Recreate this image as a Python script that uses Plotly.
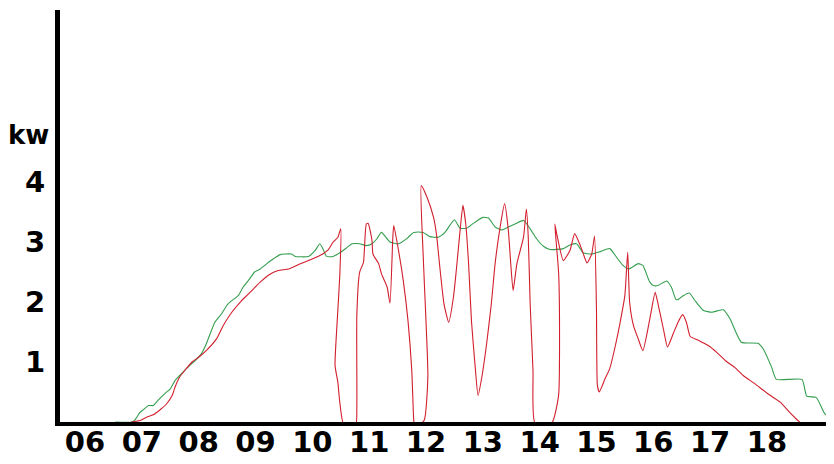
import plotly.graph_objects as go
import pandas as pd

DAY = "2024-06-01 "

green_time = ["06:32","06:49","06:53","06:58","07:02","07:07","07:12","07:17","07:24","07:30",
    "07:35","07:40","07:47","07:58","08:03","08:08","08:17","08:24","08:31","08:42",
    "08:47","08:54","08:59","09:05","09:12","09:19","09:26","09:31","09:38","09:42",
    "09:56","10:03","10:08","10:12","10:15","10:22","10:29","10:36","10:42","10:50",
    "10:57","11:03","11:08","11:13","11:22","11:31","11:40","11:47","11:57","12:04",
    "12:13","12:20","12:30","12:36","12:43","12:50","13:00","13:06","13:13","13:20",
    "13:27","13:34","13:43","13:50","13:57","14:04","14:11","14:25","14:32","14:39",
    "14:46","14:55","15:04","15:14","15:21","15:28","15:34","15:44","15:49","15:56",
    "16:00","16:05","16:14","16:19","16:24","16:26","16:32","16:38","16:44","16:53",
    "17:02","17:14","17:21","17:33","17:51","17:56","18:05","18:10","18:37","18:42",
    "18:52","19:01","19:11"]
green_kw = [0.0,0.0,0.04,0.16,0.21,0.275,0.275,0.36,0.47,0.55,
    0.69,0.775,0.89,1.05,1.14,1.30,1.66,1.80,1.97,2.11,
    2.25,2.39,2.50,2.55,2.64,2.72,2.79,2.80,2.80,2.76,
    2.76,2.86,2.97,2.86,2.76,2.76,2.82,2.90,2.97,2.97,
    2.94,2.97,3.05,3.16,3.00,2.97,3.06,3.16,3.16,3.09,
    3.08,3.16,3.37,3.23,3.23,3.31,3.41,3.40,3.25,3.20,
    3.25,3.30,3.36,3.22,3.05,2.93,2.875,2.89,2.95,2.97,
    2.82,2.80,2.84,2.89,2.75,2.61,2.55,2.64,2.61,2.34,
    2.275,2.275,2.35,2.25,2.04,2.04,2.11,2.15,2.025,1.86,
    1.83,1.87,1.72,1.33,1.31,1.22,0.91,0.71,0.71,0.43,
    0.41,0.14,0.01]

red_time = ["06:49","06:58","07:05","07:12","07:19","07:26","07:32","07:35","07:40","07:53",
    "08:00","08:08","08:19","08:26","08:35","08:44","08:51","08:58","09:05","09:14",
    "09:24","09:35","09:45","09:56","10:08","10:17","10:22","10:27","10:30","10:29",
    "10:26","10:24","10:27","10:29","10:33","10:46","10:47","10:47","10:50","10:54",
    "10:57","10:59","11:03","11:04","11:10","11:13","11:19","11:22","11:25","11:26",
    "11:31","11:36","11:41","11:45","11:47","11:48","11:58","12:02","12:00","11:57",
    "11:55","12:01","12:08","12:11","12:15","12:19","12:24","12:29","12:32","12:36",
    "12:39","12:42","12:45","12:48","12:52","12:55","12:59","13:04","13:09","13:13",
    "13:18","13:23","13:27","13:29","13:32","13:36","13:43","13:46","13:48","13:50",
    "13:53","13:55","14:13","14:20","14:21","14:20","14:16","14:18","14:25","14:32",
    "14:37","14:43","14:48","14:50","14:55","14:58","15:00","15:01","15:03","15:09",
    "15:14","15:20","15:25","15:30","15:33","15:35","15:39","15:44","15:49","15:56",
    "16:02","16:05","16:11","16:15","16:21","16:26","16:31","16:35","16:39","16:48",
    "16:58","17:07","17:16","17:26","17:35","17:47","18:01","18:14","18:24","18:31",
    "18:42"]
red_kw = [0.0,0.025,0.08,0.12,0.20,0.30,0.44,0.58,0.75,1.00,
    1.08,1.19,1.39,1.61,1.83,2.00,2.11,2.22,2.33,2.45,
    2.525,2.55,2.62,2.69,2.775,2.875,3.00,3.08,3.22,2.44,
    1.61,0.94,0.66,0.33,-0.03,-0.03,0.22,1.775,2.50,2.66,
    3.30,3.31,3.025,2.80,2.64,2.47,2.25,1.98,3.08,3.275,
    2.86,2.36,1.69,0.86,0.05,-0.09,0.025,0.75,1.69,2.80,
    3.94,3.75,3.41,3.14,2.525,1.97,1.66,2.08,2.525,3.19,
    3.61,3.30,2.64,1.69,0.91,0.44,0.75,1.30,1.97,2.64,
    3.22,3.64,3.19,2.75,2.19,2.64,3.08,3.55,3.08,1.97,
    0.86,-0.01,-0.01,0.44,1.61,2.50,3.30,3.14,2.69,2.86,
    3.14,2.94,2.72,2.65,2.80,3.10,1.89,0.61,0.50,0.72,
    0.89,1.275,1.66,2.11,2.83,2.00,1.61,1.39,1.19,1.69,
    2.16,1.97,1.525,1.25,1.47,1.66,1.79,1.66,1.425,1.36,
    1.275,1.16,1.025,0.91,0.775,0.64,0.47,0.33,0.16,0.05,
    -0.11]

hour_ticks = ["06","07","08","09","10","11","12","13","14","15","16","17","18"]
kw_ticks = [1, 2, 3, 4]
unit_label = "kw"

gx = pd.to_datetime([DAY + t for t in green_time])
rx = pd.to_datetime([DAY + t for t in red_time])

fig = go.Figure()
fig.add_trace(go.Scatter(x=gx, y=green_kw, mode="lines",
                         line=dict(color="rgb(52,158,78)", width=1.1,
                                   shape="spline", smoothing=0.5), showlegend=False))
fig.add_trace(go.Scatter(x=rx, y=red_kw, mode="lines",
                         line=dict(color="rgb(210,30,45)", width=1.1,
                                   shape="spline", smoothing=0.5), showlegend=False))

font_lbl = dict(family="DejaVu Sans", size=29, color="black", weight="bold")
font_unit = dict(family="DejaVu Sans", size=26, color="black", weight="bold")

# the page body adds an 8px offset, so the figure is 8px smaller on each side
fig.update_layout(
    width=826, height=456,
    margin=dict(l=52, r=0, t=2, b=42),
    paper_bgcolor="white", plot_bgcolor="white",
    font=font_lbl,
    xaxis=dict(
        type="date",
        range=[DAY + "05:33:36", DAY + "19:10:48"],
        tickvals=[DAY + h + ":00" for h in hour_ticks],
        ticktext=hour_ticks,
        showline=True, linewidth=4, linecolor="black",
        showgrid=False, zeroline=False, ticks="",
        tickfont=font_lbl,
        ticklabelstandoff=-9,
    ),
    yaxis=dict(
        range=[0, 6.867],
        tickvals=kw_ticks,
        ticktext=[str(v) for v in kw_ticks],
        showline=True, linewidth=5, linecolor="black",
        showgrid=False, zeroline=False, ticks="",
        tickfont=font_lbl,
        ticklabelstandoff=4,
    ),
    annotations=[dict(text=unit_label, xref="paper", yref="y", x=-0.0114, y=4.78,
                      xanchor="right", yanchor="middle", showarrow=False,
                      font=font_unit)],
)

fig.write_html("out.html")
